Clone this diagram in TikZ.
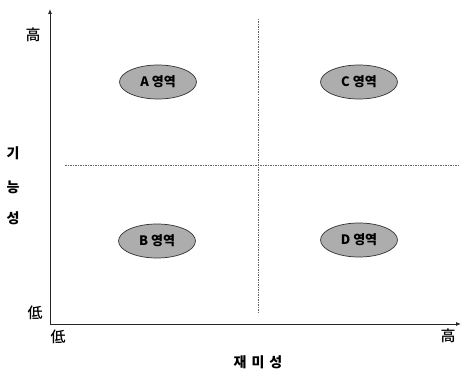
\documentclass[tikz,border=0pt]{standalone}
\usepackage{fontspec}
\newfontfamily\kr{Noto Sans CJK KR Medium}
\newfontfamily\krb{Noto Sans CJK KR Black}
\usetikzlibrary{shapes.geometric,arrows.meta}
\tikzset{
  axis/.style={draw=black!85,line width=0.8pt,-{Latex[length=5pt,width=4pt]}},
  divider/.style={draw=black!60,line width=0.6pt,dash pattern=on 1.5pt off 1pt},
  zone/.style={ellipse,draw=black!80,line width=0.7pt,fill=black!32,minimum width=77pt,minimum height=34pt,inner sep=0pt,font=\krb\fontsize{13}{14}\selectfont},
  lbl/.style={inner sep=0pt,font=\kr\fontsize{15}{16}\selectfont},
  blbl/.style={inner sep=0pt,font=\krb\fontsize{14}{15}\selectfont}
}
\begin{document}
\begin{tikzpicture}[x=1pt,y=-1pt]
\useasboundingbox (0,0) rectangle (461,369);
\coordinate (o) at (50,324);
\coordinate (ytop) at (50,9);
\coordinate (xend) at (461,324);
\coordinate (vt) at (258,19);
\coordinate (vb) at (258,313);
\coordinate (hl) at (65,165);
\coordinate (hr) at (459,165);
\draw[divider] (vt) -- (vb);
\draw[divider] (hl) -- (hr);
\draw[axis] (o) -- (ytop);
\draw[axis] (o) -- (xend);
\node[zone] (a) at (158,82) {A 영역};
\node[zone] (c) at (359,82) {C 영역};
\node[zone] (b) at (157,241) {B 영역};
\node[zone] (d) at (359,240) {D 영역};
\node[lbl] (yhi) at (33,35) {高};
\node[lbl] (ylo) at (35,313) {低};
\node[lbl] (xlo) at (58,337) {低};
\node[lbl] (xhi) at (448,336) {高};
\node[blbl] (y1) at (13,153) {기};
\node[blbl] (y2) at (13,187) {능};
\node[blbl] (y3) at (13,218) {성};
\node[blbl] (xt) at (258,362) {재\hspace{5pt}미\hspace{5pt}성};
\end{tikzpicture}
\end{document}
